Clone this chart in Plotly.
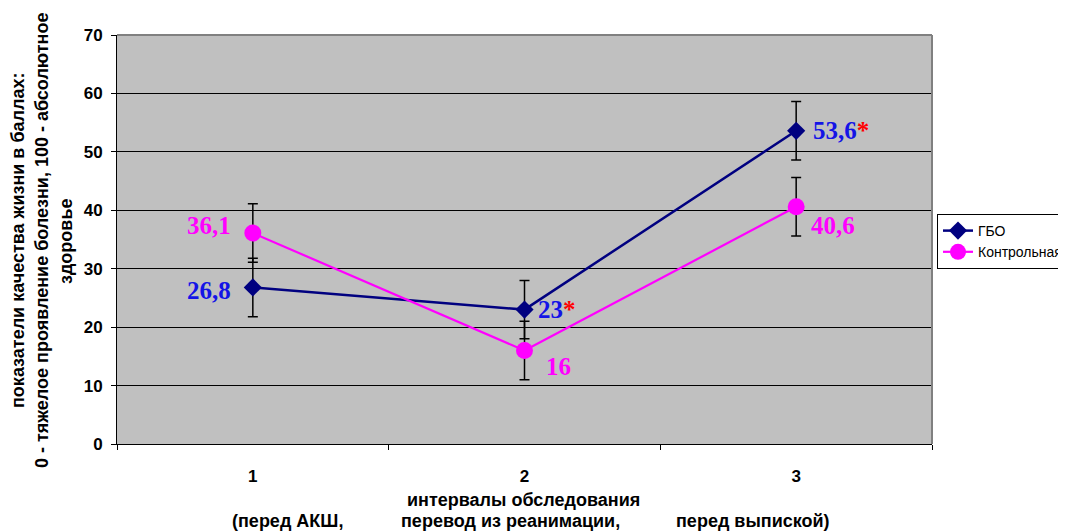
import plotly.graph_objects as go

# ---- data ----
intervals = [1, 2, 3]
interval_labels = ["1", "2", "3"]
gbo_values = [26.8, 23, 53.6]
gbo_err = [5, 5, 5]
ctrl_values = [36.1, 16, 40.6]
ctrl_err = [5, 5, 5]
gbo_text = ["26,8", "23<span style='color:#FF0000'>*</span>", "53,6<span style='color:#FF0000'>*</span>"]
ctrl_text = ["36,1", "16", "40,6"]
y_ticks = [0, 10, 20, 30, 40, 50, 60, 70]

GBO_COLOR = "#000080"
GBO_LABEL = "#1414E6"
CTRL_COLOR = "#FF00FF"

fig = go.Figure()

fig.add_trace(go.Scatter(
    x=intervals, y=gbo_values, name="ГБО", mode="lines+markers",
    line=dict(color=GBO_COLOR, width=2.5),
    marker=dict(symbol="diamond", size=14, color=GBO_COLOR),
    error_y=dict(type="data", array=gbo_err, visible=True, color="#000000", thickness=1.5, width=5),
))
fig.add_trace(go.Scatter(
    x=intervals, y=ctrl_values, name="Контрольная", mode="lines+markers",
    line=dict(color=CTRL_COLOR, width=2.2),
    marker=dict(symbol="circle", size=17, color=CTRL_COLOR),
    error_y=dict(type="data", array=ctrl_err, visible=True, color="#000000", thickness=1.5, width=5),
))

label_font = dict(family="Liberation Serif, Times New Roman, serif", size=25)
# (xanchor, xshift, yshift) per point
gbo_offsets = [("right", -20, -3), ("left", 11, 0), ("left", 15, 0)]
ctrl_offsets = [("right", -20, 8), ("left", 19, -16), ("left", 13, -19)]

annotations = []
for xv, yv, t, (xa, xs, ys) in zip(intervals, gbo_values, gbo_text, gbo_offsets):
    annotations.append(dict(x=xv, y=yv, xref="x", yref="y", text="<b>" + t + "</b>", showarrow=False,
                            xanchor=xa, yanchor="middle", xshift=xs, yshift=ys,
                            font=dict(color=GBO_LABEL, **label_font)))
for xv, yv, t, (xa, xs, ys) in zip(intervals, ctrl_values, ctrl_text, ctrl_offsets):
    annotations.append(dict(x=xv, y=yv, xref="x", yref="y", text="<b>" + t + "</b>", showarrow=False,
                            xanchor=xa, yanchor="middle", xshift=xs, yshift=ys,
                            font=dict(color=CTRL_COLOR, **label_font)))

FAM = "Liberation Sans, Arial, sans-serif"
tick_font = dict(family=FAM, size=17, color="#000000")
title_font = dict(family=FAM, size=18, color="#000000")

OFF = 8  # page body margin
W, H = 1066 - OFF, 531 - OFF
L, T, PW, PH = 117 - OFF, 35 - OFF, 815, 409
def px2x(px):
    return (px - OFF - L) / PW
def py2y(py):
    return (T + PH - (py - OFF)) / PH

# y-axis title (three lines)
y_title_lines = ["показатели качества жизни в баллах:",
                 "0 - тяжелое проявление болезни, 100 - абсолютное",
                 "здоровье"]
for line, px in zip(y_title_lines, [18, 42, 66]):
    annotations.append(dict(x=px2x(px), y=py2y(241), xref="paper", yref="paper", text="<b>" + line + "</b>",
                            showarrow=False, textangle=-90, xanchor="center", yanchor="middle",
                            font=title_font))

# x-axis title
annotations.append(dict(x=px2x(523), y=py2y(500), xref="paper", yref="paper",
                        text="<b>интервалы обследования</b>", showarrow=False,
                        xanchor="center", yanchor="middle", font=title_font))
x_sub = ["(перед АКШ,", "перевод из реанимации,", "перед выпиской)"]
for t, cx in zip(x_sub, [287, 510, 753]):
    annotations.append(dict(x=px2x(cx), y=py2y(521), xref="paper", yref="paper",
                            text="<b>" + t + "</b>", showarrow=False,
                            xanchor="center", yanchor="middle", font=title_font))

fig.update_layout(
    width=W, height=H,
    margin=dict(l=L, r=W - L - PW, t=T, b=H - T - PH, autoexpand=False),
    paper_bgcolor="#FFFFFF",
    plot_bgcolor="#C0C0C0",
    font=tick_font,
    showlegend=True,
    legend=dict(x=px2x(937), y=py2y(214), xanchor="left", yanchor="top",
                bgcolor="#FFFFFF", bordercolor="#000000", borderwidth=1,
                font=dict(family=FAM, size=14, color="#000000"),
                itemwidth=30, tracegroupgap=0),
    annotations=annotations,
    shapes=[
        dict(type="line", xref="paper", yref="paper", x0=0, x1=1, y0=1, y1=1,
             line=dict(color="#808080", width=2), layer="above"),
        dict(type="line", xref="paper", yref="paper", x0=1, x1=1, y0=0, y1=1,
             line=dict(color="#808080", width=2), layer="above"),
    ],
)

fig.update_xaxes(
    range=[0.5, 3.5], tickvals=intervals, ticktext=["<b>" + s + "</b>" for s in interval_labels],
    ticks="", showgrid=False, zeroline=False,
    showline=True, linecolor="#000000", linewidth=1,
    ticklabelstandoff=17,
    tickfont=tick_font,
    minor=dict(tick0=0.5, dtick=1, ticks="outside", ticklen=5, tickcolor="#000000", tickwidth=1, showgrid=False),
)
fig.update_yaxes(
    range=[0, 70], tickvals=y_ticks, ticktext=["<b>%d</b>" % v for v in y_ticks],
    ticks="outside", ticklen=5, tickcolor="#000000", tickwidth=1,
    showgrid=True, gridcolor="#000000", gridwidth=1, zeroline=False,
    showline=True, linecolor="#000000", linewidth=1,
    ticklabelstandoff=5,
    tickfont=tick_font,
)

fig.write_html("out.html")
